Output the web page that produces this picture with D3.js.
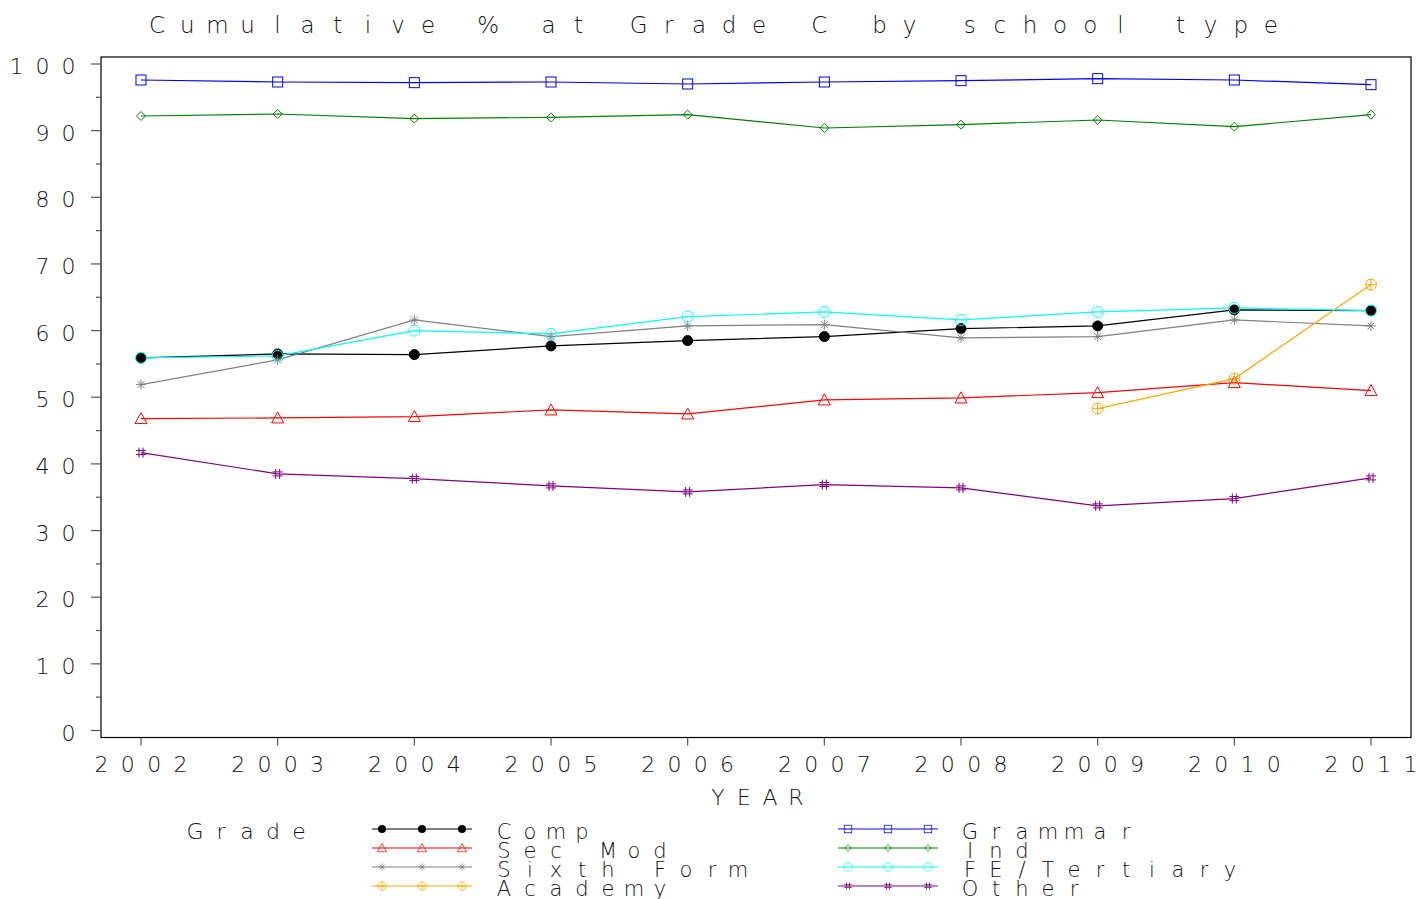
<!DOCTYPE html>
<html><head><meta charset="utf-8">
<script src="https://cdn.jsdelivr.net/npm/d3@7"></script>
<style>body{margin:0;background:#fff}svg text{font-family:"DejaVu Sans",sans-serif;font-weight:200;fill:#111}</style>
</head><body>
<script>
const years = [2002,2003,2004,2005,2006,2007,2008,2009,2010,2011];
const yTicks = [0,10,20,30,40,50,60,70,80,90,100];
const title = "Cumulative % at Grade C by school type";
const xTitle = "YEAR";
const legendTitle = "Grade";
const comp     = [55.9,56.5,56.4,57.7,58.5,59.1,60.3,60.7,63.1,63.0];
const secMod   = [46.8,46.9,47.1,48.1,47.5,49.6,49.9,50.7,52.2,51.0];
const sixth    = [51.9,55.6,61.6,59.1,60.7,60.9,58.9,59.1,61.6,60.7];
const academy  = [null,null,null,null,null,null,null,48.3,52.8,66.9];
const grammar  = [97.6,97.3,97.2,97.3,97.0,97.3,97.5,97.8,97.6,96.9];
const ind      = [92.2,92.5,91.8,92.0,92.4,90.4,90.9,91.6,90.6,92.4];
const feTert   = [55.9,56.2,60.0,59.5,62.1,62.8,61.6,62.8,63.4,63.0];
const other    = [41.7,38.5,37.8,36.7,35.8,36.9,36.4,33.7,34.8,37.9];
const seriesNames = ["Comp","Sec Mod","Sixth Form","Academy","Grammar","Ind","FE/Tertiary","Other"];
const seriesVals = [comp,secMod,sixth,academy,grammar,ind,feTert,other];
const colors = ["#000000","#ff0000","#808080","#ffa500","#0000ff","#008000","#00ffff","#800080"];
const markers = ["dot","triangle","star","circleplus","square","diamond","circle","hash"];

const W=1417,H=899;
const svg=d3.select("body").append("svg").attr("width",W).attr("height",H);
const L=101,R=1411,T=57,B=737.5;
const x=d3.scalePoint().domain(years).range([141,1371]);
const y=d3.scaleLinear().domain([0,100]).range([730.5,64]);

function spaced(g,str,cx,yb,pitch,size,anchor){
  const n=str.length;
  let first;
  if(anchor==="middle") first=cx-(n-1)*pitch/2;
  else if(anchor==="end") first=cx-(n-1)*pitch;
  else first=cx;
  const xs=d3.range(n).map(i=>first+i*pitch);
  g.append("text").attr("x",xs.join(" ")).attr("y",yb).attr("text-anchor","middle")
   .attr("font-size",size).attr("xml:space","preserve").text(str);
}

// frame
svg.append("rect").attr("x",L).attr("y",T).attr("width",R-L).attr("height",B-T)
  .attr("fill","none").attr("stroke","#000").attr("stroke-width",1.2);

// y ticks
const gy=svg.append("g");
d3.range(0,101,5).forEach(v=>{
  const major=v%10===0;
  gy.append("line").attr("x1",major?91:96).attr("x2",L).attr("y1",y(v)).attr("y2",y(v))
    .attr("stroke","#555").attr("stroke-width",1.2);
});
yTicks.forEach(v=>spaced(gy,String(v),68.5,y(v)+10,26,22,"end"));

// x ticks
const gx=svg.append("g");
years.forEach(v=>{
  gx.append("line").attr("x1",x(v)).attr("x2",x(v)).attr("y1",B).attr("y2",B+8)
    .attr("stroke","#555").attr("stroke-width",1.2);
  spaced(gx,String(v),x(v),772,26.3,22,"middle");
});
spaced(svg,xTitle,757,805,26,22,"middle");
spaced(svg,title,714,33,30.1,23,"middle");

function marker(g,type,cx,cy,color){
  const s=g.append("g").attr("transform",`translate(${cx},${cy})`)
    .attr("stroke",color).attr("fill","none").attr("stroke-width",1);
  if(type==="dot") s.append("circle").attr("r",5).attr("fill",color);
  else if(type==="circle") s.append("circle").attr("r",5.5);
  else if(type==="triangle") s.append("path").attr("d","M0,-6L6,5L-6,5Z");
  else if(type==="square") s.append("rect").attr("x",-5).attr("y",-5).attr("width",10).attr("height",10);
  else if(type==="diamond") s.append("path").attr("d","M0,-4.5L4.5,0L0,4.5L-4.5,0Z");
  else if(type==="circleplus"){ s.append("circle").attr("r",5.5);
    s.append("path").attr("d","M-5.5,0H5.5M0,-5.5V5.5");}
  else if(type==="star") s.append("path").attr("d","M-5,0H5M-3.5,-3.5L3.5,3.5M-3.5,3.5L3.5,-3.5M0,-5V5");
  else if(type==="hash") s.append("path").attr("d","M-2,-5V5M2,-5V5M-5,-2H5M-5,2H5");
}

const line=d3.line().defined(d=>d[1]!=null).x(d=>x(d[0])).y(d=>y(d[1]));
const gp=svg.append("g");
seriesVals.forEach((vals,i)=>{
  const pts=years.map((yr,j)=>[yr,vals[j]]);
  gp.append("path").attr("d",line(pts)).attr("fill","none").attr("stroke",colors[i]).attr("stroke-width",1.2);
});
seriesVals.forEach((vals,i)=>{
  years.forEach((yr,j)=>{ if(vals[j]!=null) marker(gp,markers[i],x(yr),y(vals[j]),colors[i]); });
});

// legend
const gl=svg.append("g");
spaced(gl,legendTitle,195,839,26,22,"start");
const rowsY=[829,848,867,886];
seriesNames.forEach((name,i)=>{
  const col=Math.floor(i/4), r=i%4;
  const x0=col===0?372:838, ly=rowsY[r];
  gl.append("line").attr("x1",x0).attr("x2",x0+100).attr("y1",ly).attr("y2",ly)
    .attr("stroke",colors[i]).attr("stroke-width",1.2);
  [10,50,90].forEach(dx=>{
    const m=gl.append("g").attr("transform",`translate(${x0+dx},${ly}) scale(0.75)`);
    marker(m,markers[i],0,0,colors[i]);
  });
  spaced(gl,name,col===0?504:970,ly+10,26,21,"start");
});
</script>
</body></html>
